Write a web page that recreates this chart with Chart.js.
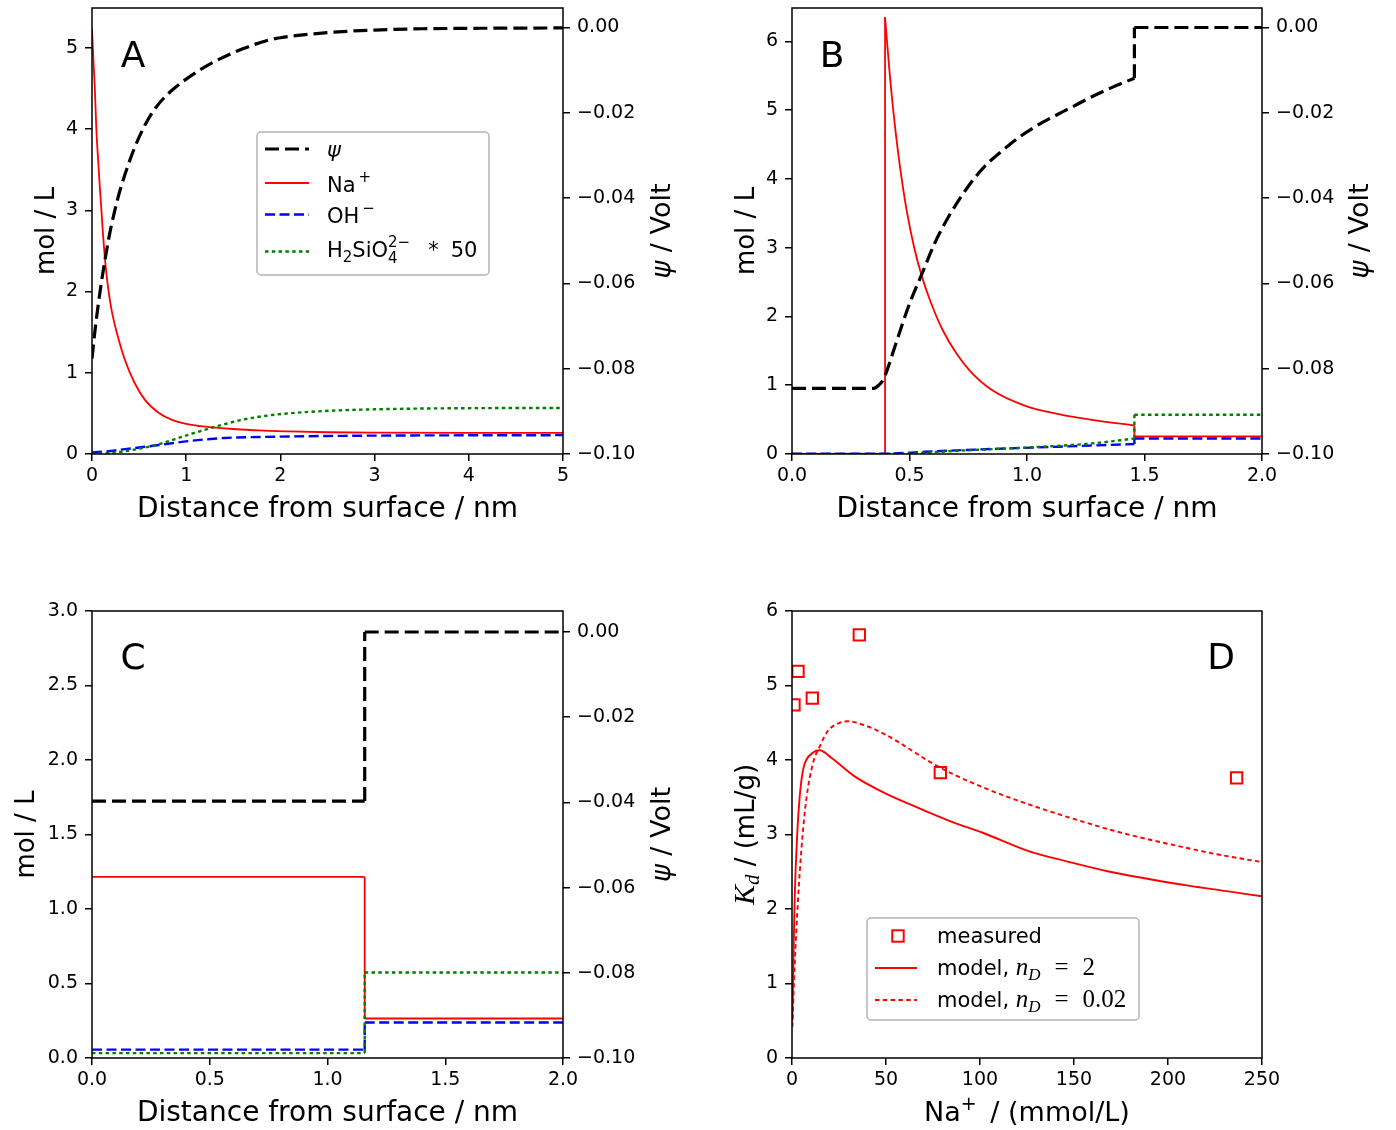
<!DOCTYPE html>
<html><head><meta charset="utf-8">
<script src="https://cdn.jsdelivr.net/npm/chart.js@4.4.1/dist/chart.umd.min.js"></script>
<style>
html,body{margin:0;padding:0;background:#fff;overflow:hidden;width:1396px;height:1130px;}
canvas{position:absolute;}
</style></head><body>
<canvas id="cA" width="698" height="565" style="left:0px;top:0px"></canvas>
<canvas id="cB" width="698" height="565" style="left:698px;top:0px"></canvas>
<canvas id="cC" width="698" height="565" style="left:0px;top:565px"></canvas>
<canvas id="cD" width="698" height="565" style="left:698px;top:565px"></canvas>
<script>
// ---------------- DATA ----------------
// Panel A
const aPsiX = [0, 0.03, 0.065, 0.1, 0.15, 0.2, 0.275, 0.33, 0.45, 0.56, 0.66, 0.8, 1.0, 1.3, 1.6, 1.85, 2.0, 2.5, 3.0, 3.5, 4.0, 5.0];
const aPsi  = [-0.0776, -0.0714, -0.0652, -0.0597, -0.0529, -0.0470, -0.0400, -0.0358, -0.0283, -0.0230, -0.0193, -0.0157, -0.0121, -0.0080, -0.0050, -0.0031, -0.0024, -0.0012, -0.0006, -0.0003, -0.0002, -0.0001];
const aNaX  = [0, 0.015, 0.03, 0.046, 0.065, 0.08, 0.1, 0.117, 0.134, 0.16, 0.205, 0.276, 0.346, 0.45, 0.566, 0.71, 0.85, 1.0, 1.15, 1.31, 1.5, 1.77, 2.1, 2.5, 3.0, 4.0, 5.0];
const aNa   = [5.23, 4.85, 4.5, 4.0, 3.62, 3.34, 3.0, 2.7, 2.45, 2.15, 1.79, 1.44, 1.17, 0.88, 0.66, 0.505, 0.42, 0.37, 0.343, 0.325, 0.308, 0.29, 0.278, 0.268, 0.263, 0.26, 0.26];
const aOhX  = [0, 0.2, 0.35, 0.5, 0.71, 1.06, 1.41, 1.94, 2.83, 5.0];
const aOh   = [0.02, 0.037, 0.06, 0.08, 0.11, 0.164, 0.197, 0.213, 0.225, 0.232];
const aSiX  = [0, 0.2, 0.35, 0.5, 0.71, 0.9, 1.06, 1.31, 1.59, 1.95, 2.48, 3.0, 3.54, 4.2, 5.0];
const aSi   = [0.002, 0.014, 0.035, 0.065, 0.12, 0.19, 0.25, 0.336, 0.42, 0.485, 0.53, 0.55, 0.56, 0.565, 0.567];

// Panel B
const bPsiX = [0, 0.348, 0.37, 0.389, 0.41, 0.438, 0.474, 0.509, 0.552, 0.608, 0.665, 0.743, 0.814, 0.892, 0.97, 1.055, 1.14, 1.183, 1.27, 1.36, 1.457, 1.457, 2.0];
const bPsi  = [-0.0846, -0.0846, -0.0838, -0.0825, -0.0795, -0.0748, -0.0688, -0.0635, -0.0579, -0.0505, -0.0445, -0.0378, -0.0329, -0.0290, -0.0256, -0.0226, -0.0201, -0.0189, -0.0164, -0.0141, -0.0119, 0, 0];
const bNaX  = [0, 0.396, 0.396, 0.417, 0.438, 0.459, 0.487, 0.52, 0.552, 0.59, 0.64, 0.7, 0.757, 0.851, 0.993, 1.135, 1.277, 1.457, 1.457, 2.0];
const bNa   = [0, 0, 6.35, 5.48, 4.77, 4.19, 3.56, 3.0, 2.59, 2.21, 1.81, 1.46, 1.21, 0.93, 0.70, 0.58, 0.495, 0.415, 0.255, 0.255];
const bOhX  = [0, 0.396, 0.567, 0.851, 1.135, 1.457, 1.457, 2.0];
const bOh   = [0.003, 0.004, 0.033, 0.073, 0.106, 0.145, 0.225, 0.225];
const bSiX  = [0, 0.45, 0.709, 0.993, 1.277, 1.457, 1.457, 2.0];
const bSi   = [0.001, 0.003, 0.048, 0.093, 0.154, 0.225, 0.571, 0.571];

// Panel C
const cX    = [0, 1.158, 1.158, 2.0];
const cPsi  = [-0.0397, -0.0397, 0, 0];
const cNa   = [1.215, 1.215, 0.265, 0.265];
const cOh   = [0.056, 0.056, 0.238, 0.238];
const cSi   = [0.033, 0.033, 0.574, 0.574];

// Panel D
const dMeasX = [1.06, 3.2, 10.8, 35.8, 78.9, 236.5];
const dMeasY = [4.74, 5.19, 4.83, 5.68, 3.83, 3.76];
const dN2X   = [0.2, 0.8, 1.4, 2.8, 4.1, 5.9, 7.6, 11.2, 14.7, 20.9, 33.3, 47.5, 65.0, 84.0, 101.8, 126.6, 146.1, 169.1, 190.4, 211.7, 231.2, 250];
const dN2Y   = [0.5, 1.35, 2.12, 3.02, 3.51, 3.87, 4.0, 4.1, 4.13, 4.03, 3.78, 3.58, 3.38, 3.18, 3.02, 2.77, 2.64, 2.50, 2.40, 2.31, 2.24, 2.17];
const dN002X = [0.2, 1.4, 3.2, 5.0, 7.6, 11.2, 14.7, 19.1, 24.5, 29.8, 36.9, 47.5, 59.9, 72.3, 86.5, 101.8, 119.5, 137.2, 155, 172.7, 190.4, 208.1, 225.9, 250];
const dN002Y = [0.42, 1.23, 2.12, 2.80, 3.47, 3.96, 4.18, 4.39, 4.49, 4.52, 4.48, 4.37, 4.19, 3.99, 3.80, 3.63, 3.46, 3.31, 3.17, 3.04, 2.93, 2.83, 2.735, 2.63];

// Tick values
const ticksA_x = [0, 1, 2, 3, 4, 5];
const ticksA_y = [0, 1, 2, 3, 4, 5];
const ticksB_y = [0, 1, 2, 3, 4, 5, 6];
const ticksNm  = [0, 0.5, 1.0, 1.5, 2.0];
const ticksC_y = [0, 0.5, 1.0, 1.5, 2.0, 2.5, 3.0];
const ticksPsi = [-0.10, -0.08, -0.06, -0.04, -0.02, 0];
const ticksD_x = [0, 50, 100, 150, 200, 250];
const ticksD_y = [0, 1, 2, 3, 4, 5, 6];

// ---------------- STYLES ----------------
const STY = {
  psi:  {borderColor:'#000000', borderWidth:3.2, borderDash:[14,6]},
  na:   {borderColor:'#ff0000', borderWidth:1.8, borderDash:[]},
  oh:   {borderColor:'#0000ff', borderWidth:2.4, borderDash:[10,4.5]},
  si:   {borderColor:'#008000', borderWidth:2.4, borderDash:[3.5,3.3]},
  m2:   {borderColor:'#ff0000', borderWidth:1.9, borderDash:[]},
  m002: {borderColor:'#ff0000', borderWidth:1.9, borderDash:[4.5,3.3]}
};
const SANS = "'DejaVu Sans', sans-serif";
const SERIF = "'Liberation Serif', 'DejaVu Serif', serif";

// split a polyline into monotone-x runs + vertical connectors
function series(xs, ys, st, axis){
  const out=[]; let run=[{x:xs[0],y:ys[0]}];
  const mk=(data,smooth)=>Object.assign({type:'line', data, yAxisID:axis, pointRadius:0, pointHoverRadius:0,
     fill:false, tension:0, cubicInterpolationMode: smooth?'monotone':'default', borderCapStyle:'butt', borderJoinStyle:'miter'}, st);
  for(let i=1;i<xs.length;i++){
    if(xs[i]===xs[i-1]){
      if(run.length>1) out.push(mk(run,true));
      out.push(mk([{x:xs[i-1],y:ys[i-1]},{x:xs[i],y:ys[i]}],false));
      run=[{x:xs[i],y:ys[i]}];
    } else run.push({x:xs[i],y:ys[i]});
  }
  if(run.length>1) out.push(mk(run,true));
  return out;
}

// ---------------- TEXT HELPERS ----------------
function F(p){ return (p.italic?'italic ':'')+p.size+'px '+(p.serif?SERIF:SANS); }
function rich(ctx, parts, x, y, align){
  parts.forEach(p=>{ ctx.font=F(p); p._w=ctx.measureText(p.t).width; });
  const adv=parts.map((p,i)=>{
    if(p.stack) return 0;
    let w=p._w; if(i>0 && parts[i-1].stack) w=Math.max(w, parts[i-1]._w);
    return w+(p.gap||0);
  });
  const total=adv.reduce((a,b)=>a+b,0);
  let cx = align==='center' ? x-total/2 : x;
  ctx.textAlign='left'; ctx.textBaseline='alphabetic'; ctx.fillStyle='#000';
  parts.forEach((p,i)=>{ ctx.font=F(p); ctx.fillText(p.t, cx, y+(p.dy||0)); cx+=adv[i]; });
}
function htext(ctx, parts, cx, cy, size){ rich(ctx, parts, cx, cy+0.36*size, 'center'); }
function vtext(ctx, parts, cx, cy, size){
  ctx.save(); ctx.translate(cx, cy); ctx.rotate(-Math.PI/2);
  rich(ctx, parts, 0, 0.36*size, 'center'); ctx.restore();
}
function letter(ctx, t, x, y){
  ctx.save(); ctx.font='36px '+SANS; ctx.fillStyle='#000'; ctx.textAlign='center'; ctx.textBaseline='alphabetic';
  ctx.fillText(t, x, y+13); ctx.restore();
}
function frame(chart){
  const a=chart.chartArea, ctx=chart.ctx;
  ctx.save(); ctx.strokeStyle='#000'; ctx.lineWidth=1.5; ctx.setLineDash([]);
  ctx.strokeRect(a.left, a.top, a.right-a.left, a.bottom-a.top); ctx.restore();
}
function legendBox(ctx, x, y, w, h){
  ctx.save(); ctx.beginPath();
  if(ctx.roundRect) ctx.roundRect(x,y,w,h,4); else ctx.rect(x,y,w,h);
  ctx.fillStyle='rgba(255,255,255,0.85)'; ctx.fill();
  ctx.strokeStyle='#b4b4b4'; ctx.lineWidth=1.5; ctx.stroke(); ctx.restore();
}
function sample(ctx, st, x1, x2, y){
  ctx.save(); ctx.strokeStyle=st.borderColor; ctx.lineWidth=st.borderWidth; ctx.setLineDash(st.borderDash||[]);
  ctx.lineCap='butt'; ctx.beginPath(); ctx.moveTo(x1,y); ctx.lineTo(x2,y); ctx.stroke(); ctx.restore();
}

const fmtInt = v => String(Math.round(v));
const fmt1 = v => (Math.abs(v)<1e-9?0:v).toFixed(1);
const fmtPsi = v => (Math.abs(v)<1e-9 ? '0.00' : v.toFixed(2)).replace('-', '\u2212');

function axis(pos, min, max, ticks, fmt, fit){
  return { type:'linear', position:pos, min, max,
    afterBuildTicks: s=>{ s.ticks = ticks.map(v=>({value:v})); },
    afterFit: fit,
    ticks:{ callback: v=>fmt(v), font:{family:SANS, size:19}, color:'#000', padding: pos==='bottom'?4:7,
            autoSkip:false, maxRotation:0, minRotation:0, includeBounds:false },
    grid:{ drawOnChartArea:false, drawTicks:true, tickLength:7, color:'#000', lineWidth:1.5 },
    border:{ display:false },
    title:{ display:false }
  };
}

function build(id, c){
  const scales = {
    x: axis('bottom', c.xMin, c.xMax, c.xTicks, c.xFmt, s=>{ s.height=c.bottomH; s.paddingLeft=0; s.paddingRight=0; }),
    y: axis('left', c.yMin, c.yMax, c.yTicks, c.yFmt, s=>{ s.width=c.leftW; s.paddingTop=0; s.paddingBottom=0; })
  };
  if(c.rightW) scales.y2 = axis('right', -0.1, c.psiMax, ticksPsi, fmtPsi, s=>{ s.width=c.rightW; s.paddingTop=0; s.paddingBottom=0; });
  return new Chart(document.getElementById(id), {
    type:'line',
    data:{ datasets:c.datasets },
    options:{
      responsive:false, animation:false, devicePixelRatio:1, events:[],
      layout:{ padding:{ top:c.padTop, left:0, right:c.padRight||0, bottom:0 } },
      plugins:{ legend:{display:false}, tooltip:{enabled:false}, title:{display:false} },
      scales
    },
    plugins:[{ id:'decor'+id,
      afterDatasetsDraw(chart){ frame(chart); },
      afterDraw(chart){ c.decor(chart.ctx, chart.chartArea); }
    }]
  });
}

// ---------------- PANEL A ----------------
build('cA', {
  leftW:92, rightW:135, padTop:8, bottomH:111,
  xMin:0, xMax:5, xTicks:ticksA_x, xFmt:fmtInt,
  yMin:0, yMax:5.49, yTicks:ticksA_y, yFmt:fmtInt, psiMax:0.00457,
  datasets:[].concat(
    series(aPsiX, aPsi, STY.psi, 'y2'),
    series(aSiX, aSi, STY.si, 'y'),
    series(aOhX, aOh, STY.oh, 'y'),
    series(aNaX, aNa, STY.na, 'y')),
  decor(ctx, a){
    letter(ctx, 'A', 133, 54);
    vtext(ctx, [{t:'mol / L', size:26}], 45, (a.top+a.bottom)/2, 26);
    vtext(ctx, [{t:'ψ', size:27, italic:true},{t:' / Volt', size:27}], 660, (a.top+a.bottom)/2, 27);
    htext(ctx, [{t:'Distance from surface / nm', size:28}], (a.left+a.right)/2, 507, 28);
    legendBox(ctx, 257, 132, 232, 143);
    sample(ctx, STY.psi, 265, 309, 149);
    sample(ctx, STY.na, 265, 309, 183);
    sample(ctx, STY.oh, 265, 309, 214.5);
    sample(ctx, STY.si, 265, 309, 251.5);
    rich(ctx, [{t:'ψ', size:21, italic:true}], 327, 157, 'left');
    rich(ctx, [{t:'Na', size:21, gap:3},{t:'+', size:15, dy:-10}], 327, 191.5, 'left');
    rich(ctx, [{t:'OH', size:21, gap:3},{t:'−', size:15, dy:-10}], 327, 223, 'left');
    rich(ctx, [{t:'H', size:21},{t:'2', size:15, dy:5},{t:'SiO', size:21},{t:'4', size:15, dy:6, stack:true},
               {t:'2−', size:15, dy:-10, gap:18},{t:'*', size:21, gap:12},{t:'50', size:21}], 327, 256.5, 'left');
  }
});

// ---------------- PANEL B ----------------
build('cB', {
  leftW:94, rightW:134, padTop:8, bottomH:111,
  xMin:0, xMax:2, xTicks:ticksNm, xFmt:fmt1,
  yMin:0, yMax:6.485, yTicks:ticksB_y, yFmt:fmtInt, psiMax:0.00457,
  datasets:[].concat(
    series(bPsiX, bPsi, STY.psi, 'y2'),
    series(bSiX, bSi, STY.si, 'y'),
    series(bOhX, bOh, STY.oh, 'y'),
    series(bNaX, bNa, STY.na, 'y')),
  decor(ctx, a){
    letter(ctx, 'B', 134, 54);
    vtext(ctx, [{t:'mol / L', size:26}], 47, (a.top+a.bottom)/2, 26);
    vtext(ctx, [{t:'ψ', size:27, italic:true},{t:' / Volt', size:27}], 660, (a.top+a.bottom)/2, 27);
    htext(ctx, [{t:'Distance from surface / nm', size:28}], (a.left+a.right)/2, 507, 28);
  }
});

// ---------------- PANEL C ----------------
build('cC', {
  leftW:92, rightW:135, padTop:46, bottomH:72,
  xMin:0, xMax:2, xTicks:ticksNm, xFmt:fmt1,
  yMin:0, yMax:3.0, yTicks:ticksC_y, yFmt:fmt1, psiMax:0.00493,
  datasets:[].concat(
    series(cX, cPsi, STY.psi, 'y2'),
    series(cX, cSi, STY.si, 'y'),
    series(cX, cOh, STY.oh, 'y'),
    series(cX, cNa, STY.na, 'y')),
  decor(ctx, a){
    letter(ctx, 'C', 133, 91);
    vtext(ctx, [{t:'mol / L', size:26}], 25, (a.top+a.bottom)/2, 26);
    vtext(ctx, [{t:'ψ', size:27, italic:true},{t:' / Volt', size:27}], 660, (a.top+a.bottom)/2, 27);
    htext(ctx, [{t:'Distance from surface / nm', size:28}], (a.left+a.right)/2, 546, 28);
  }
});

// ---------------- PANEL D ----------------
build('cD', {
  leftW:94, rightW:0, padRight:134, padTop:46, bottomH:72,
  xMin:0, xMax:250, xTicks:ticksD_x, xFmt:fmtInt,
  yMin:0, yMax:6, yTicks:ticksD_y, yFmt:fmtInt,
  datasets:[].concat(
    [{type:'line', showLine:false, data:dMeasX.map((x,i)=>({x, y:dMeasY[i]})), yAxisID:'y',
      pointStyle:'rect', pointRadius:8, pointBorderWidth:2, pointBorderColor:'#ff0000',
      pointBackgroundColor:'rgba(0,0,0,0)', borderColor:'#ff0000', backgroundColor:'rgba(0,0,0,0)', clip:0}],
    series(dN2X, dN2Y, STY.m2, 'y'),
    series(dN002X, dN002Y, STY.m002, 'y')),
  decor(ctx, a){
    letter(ctx, 'D', 523, 91);
    vtext(ctx, [{t:'K', size:30, italic:true, serif:true},{t:'d', size:21, italic:true, serif:true, dy:5},
                {t:' / (mL/g)', size:26}], 47, (a.top+a.bottom)/2, 26);
    htext(ctx, [{t:'Na', size:27},{t:'+', size:19, dy:-11, gap:5},{t:' / (mmol/L)', size:27}], (a.left+a.right)/2, 546, 27);
    legendBox(ctx, 169, 353, 272, 102);
    ctx.save(); ctx.strokeStyle='#ff0000'; ctx.lineWidth=2; ctx.setLineDash([]);
    ctx.strokeRect(200-5.7, 371-5.7, 11.4, 11.4); ctx.restore();
    sample(ctx, STY.m2, 177, 219, 403);
    sample(ctx, STY.m002, 177, 219, 435);
    rich(ctx, [{t:'measured', size:21}], 239, 378, 'left');
    rich(ctx, [{t:'model, ', size:21},{t:'n', size:25, italic:true, serif:true},{t:'D', size:17, italic:true, serif:true, dy:5, gap:14},
               {t:'=', size:25, serif:true, gap:14},{t:'2', size:25, serif:true}], 239, 410, 'left');
    rich(ctx, [{t:'model, ', size:21},{t:'n', size:25, italic:true, serif:true},{t:'D', size:17, italic:true, serif:true, dy:5, gap:14},
               {t:'=', size:25, serif:true, gap:14},{t:'0.02', size:25, serif:true}], 239, 441.5, 'left');
  }
});
</script>
</body></html>
